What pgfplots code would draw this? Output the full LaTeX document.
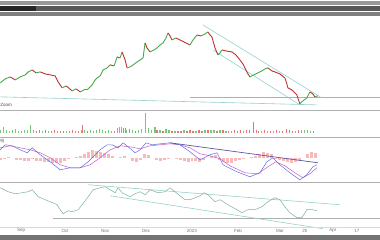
\documentclass[border=0pt]{standalone}
\usepackage{pgfplots}
\pgfplotsset{compat=1.18}
\usepackage{fontspec}
\setmainfont{Liberation Sans}
\definecolor{cgreen}{RGB}{70,170,75}
\definecolor{cred}{RGB}{190,50,50}
\definecolor{vgreen}{RGB}{120,200,120}
\definecolor{vred}{RGB}{225,120,120}
\definecolor{teal1}{RGB}{150,210,205}
\definecolor{macdb}{RGB}{90,110,230}
\definecolor{macds}{RGB}{200,90,200}
\definecolor{histc}{RGB}{240,140,140}
\definecolor{trendp}{RGB}{95,85,170}
\definecolor{rsic}{RGB}{130,175,160}
\definecolor{sepc}{RGB}{175,175,175}
\pgfplotsset{
  panel/.style={scale only axis, width=380pt, xmin=0, xmax=380,
    axis lines=none, ticks=none, anchor=north west},
}
\begin{document}
\begin{tikzpicture}
\fill[white] (0pt,0pt) rectangle (380pt,-240pt);
% header band (unreadable text)
\fill[black!40] (0pt,-1pt) rectangle (380pt,-5pt);
\fill[black!65] (0pt,-6pt) rectangle (380pt,-11pt);
\fill[black!50] (0pt,-12pt) rectangle (380pt,-16pt);
\fill[black!85] (0pt,-6pt) rectangle (36pt,-11pt);
% footer band
\fill[black!55] (0pt,-235pt) rectangle (380pt,-240pt);

% ---------------- price panel
\begin{axis}[panel, at={(0pt,-18pt)}, height=92pt, ymin=18, ymax=110, y dir=reverse]
\addplot[teal1, line width=0.6pt] coordinates {(0,97) (317,105)};
\addplot[sepc, line width=0.5pt] coordinates {(190,97) (380,97)};
\addplot[teal1, line width=0.6pt] coordinates {(203,25) (322,98)};
\addplot[teal1, line width=0.6pt] coordinates {(213,50) (300,105)};
\addplot[mesh, shader=flat corner, point meta=explicit, point meta min=0, point meta max=1,
  line width=0.9pt, colormap={rg}{color=(cred) color=(cgreen)}] coordinates {
(0,83) [1] (5,79) [1] (10,77) [0] (15,80) [1] (20,77) [1] (25,75) [1] (28,72) [1]
(32,70) [0] (36,73) [1] (40,72) [0] (45,74) [0] (50,75) [0] (55,76) [0] (58,82) [0]
(62,88) [1] (66,86) [0] (72,91) [1] (76,89) [0] (80,92) [1] (84,90) [1] (87,90) [1]
(92,85) [1] (95,80) [1] (97,78) [1] (100,76) [1] (103,70) [1] (107,68) [1] (110,65) [0]
(114,66) [1] (117,57) [0] (120,58) [1] (122,52) [0] (125,60) [0] (127,68) [1] (130,67) [1]
(133,65) [1] (137,62) [1] (140,60) [1] (143,58) [1] (145,43) [0] (147,48) [0] (150,52) [1]
(154,50) [1] (157,48) [1] (160,45) [1] (163,43) [1] (166,38) [1] (168,33) [0] (170,36) [0]
(172,40) [1] (176,38) [0] (180,40) [0] (184,42) [0] (188,44) [0] (190,45) [1] (193,40) [1]
(197,35) [0] (201,36) [1] (205,34) [1] (208,32) [0] (210,35) [0] (212,37) [0] (215,48) [0]
(218,55) [1] (220,53) [1] (222,50) [0] (226,51) [0] (232,52) [0] (236,55) [0] (240,60) [0]
(243,64) [0] (245,68) [0] (248,74) [0] (250,77) [1] (254,75) [1] (258,73) [1] (262,71) [1]
(265,69) [1] (268,68) [0] (272,71) [0] (275,72) [0] (280,74) [0] (285,78) [0] (287,84) [0]
(288,88) [0] (292,90) [0] (297,95) [0] (300,104) [1] (303,101) [1] (307,98) [1] (310,92) [0]
(313,94) [0] (315,97) [1] (318,96) [0]
};
\node[anchor=west, font=\fontsize{4.5}{5}\selectfont, text=black!70, inner sep=0pt] at (axis cs:0,105) {Zoom};
\end{axis}

% ---------------- volume panel
\begin{axis}[panel, at={(0pt,-110pt)}, height=27pt, ymin=-4, ymax=23]
\addplot[vgreen, ycomb, line width=1.1pt] coordinates {
(0,3)(3,6)(6,3)(9,2)(12,3)(15,4)(18,2)(24,3)(27,3)(30,8)(33,3)(42,2)(48,2)(57,2)(66,2)
(81,3)(84,3)(90,3)(93,2)(96,3)(99,4)(102,3)(108,3)(111,2)(117,5)(119,6)(121,6)(126,3)
(132,3)(138,3)(141,4)(145,20)(148,5)(151,3)(155,6)(160,3)(166,4)(169,3)(175,2)(184,3)
(196,2)(205,3)(211,3)(214,3)(220,3)(226,2)(232,2)(244,2)(262,2)(268,2)(274,2)(280,2)
(296,2)(302,3)(305,3)(308,3)(311,2)};
\addplot[vred, ycomb, line width=1.1pt] coordinates {
(21,2)(36,2)(39,3)(45,3)(51,2)(54,3)(60,2)(63,2)(69,2)(72,3)(75,2)(78,2)(82,8)(87,2)
(105,2)(114,2)(123,5)(125,5)(129,4)(135,2)(157,3)(163,2)(172,2)(178,2)(181,2)(187,2)
(190,3)(193,2)(199,3)(202,2)(208,3)(217,2)(223,3)(229,2)(235,3)(238,2)(241,3)(247,3)
(250,3)(254,11)(257,3)(259,2)(265,3)(271,2)(277,3)(283,2)(287,4)(290,3)(293,2)(299,3)(314,2)};
\end{axis}

% ---------------- MACD panel
\begin{axis}[panel, at={(0pt,-137pt)}, height=45pt, ymin=-24, ymax=21]
\addplot[histc, ycomb, line width=3pt, opacity=0.6] coordinates {
(0,-2)(4,-1)(8,1)(12,0)(16,-2)(20,-2)(24,-3)(28,-3)(32,-1)(36,-3)(40,-3)(44,-4)(48,-4)
(52,-5)(56,-5)(60,-5)(64,-3)(68,-1)(72,0)(76,1)(80,2)(84,4)(88,6)(92,8)(96,7)(100,6)
(104,5)(108,4)(112,2)(116,0)(120,1)(124,2)(128,0)(132,-3)(136,-4)(140,-2)(144,4)(148,3)
(152,0)(156,-2)(160,-3)(164,-2)(168,-1)(172,0)(176,-1)(180,-2)(184,-3)(188,-4)(192,-3)
(196,-3)(200,-4)(204,-2)(208,0)(212,2)(216,3)(220,-2)(224,-4)(228,-5)(232,-5)(236,-3)
(240,-2)(244,-1)(248,0)(252,1)(256,2)(260,4)(264,6)(268,5)(272,4)(276,-1)(280,-2)
(284,-3)(288,-4)(292,-5)(296,-4)(300,-3)(304,0)(308,4)(312,6)(316,5)};
\addplot[macds, line width=0.5pt] coordinates {
(0,10)(10,12)(20,10)(30,8)(40,5)(50,0)(60,-7)(70,-10)(80,-10)(90,-7)(100,0)(110,8)
(120,12)(130,11)(140,9)(150,12)(160,13)(170,14)(180,13)(190,10)(200,4)(210,2)(220,-1)
(230,-8)(245,-15)(258,-16)(268,-9)(276,-4)(285,-8)(295,-15)(303,-20)(310,-16)(317,-10)};
\addplot[macdb, line width=0.5pt] coordinates {
(0,8)(5,13)(12,12)(20,8)(27,5)(32,10)(40,3)(50,-4)(60,-12)(70,-10)(80,-10)(88,-4)(95,3)
(100,8)(107,13)(112,13)(118,10)(123,15)(128,11)(135,5)(140,8)(146,15)(152,13)(160,14)
(170,15)(180,13)(190,6)(200,-2)(210,3)(217,5)(223,-7)(237,-14)(250,-19)(260,-15)(267,-4)
(273,0)(280,-7)(290,-15)(300,-22)(307,-17)(313,-9)(317,-7)};
\addplot[trendp, line width=0.7pt] coordinates {(170,15) (318,-5)};
\node[anchor=west, font=\fontsize{4.5}{5}\selectfont, text=black!70, inner sep=0pt] at (axis cs:0,16) {9)};
\end{axis}

% ---------------- RSI panel
\begin{axis}[panel, at={(0pt,-182pt)}, height=49pt, ymin=182, ymax=231, y dir=reverse]
\addplot[sepc, line width=0.5pt] coordinates {(53,219) (380,219)};
\addplot[teal1, line width=0.6pt] coordinates {(88,185) (340,205)};
\addplot[teal1, line width=0.6pt] coordinates {(110,196) (323,229)};
\addplot[rsic, line width=0.5pt] coordinates {
(0,188)(8,192)(15,194)(22,193)(28,192)(32,190)(38,197)(45,200)(50,202)(57,205)(60,210)
(63,214)(68,211)(72,212)(78,210)(82,205)(88,197)(93,190)(100,188)(105,187)(110,190)
(115,193)(118,188)(122,193)(130,197)(135,194)(140,192)(145,195)(150,190)(158,193)
(165,192)(170,188)(175,192)(180,196)(185,200)(190,200)(195,198)(200,196)(204,193)
(208,195)(215,202)(220,200)(228,205)(237,210)(242,213)(248,210)(255,210)(262,207)
(268,202)(275,198)(280,200)(285,207)(290,213)(297,218)(302,218)(307,210)(313,210)(317,211)};
\end{axis}

% separators
\draw[sepc, line width=0.5pt] (0pt,-110pt) -- (380pt,-110pt);
\draw[sepc, line width=0.5pt] (0pt,-137pt) -- (380pt,-137pt);
\draw[sepc, line width=0.5pt] (0pt,-182pt) -- (380pt,-182pt);
\draw[black!15, line width=0.4pt] (0pt,-227pt) -- (380pt,-227pt);
% x labels
\foreach \x/\l in {21/Sep,65/Oct,105/Nov,146/Dec,192/2023,238/Feb,280/Mar,305/20,333/Apr,357/17}
  \node[font=\fontsize{4.5}{5}\selectfont, text=black!55, inner sep=0pt] at (\x pt,-231pt) {\l};
\end{tikzpicture}
\end{document}
